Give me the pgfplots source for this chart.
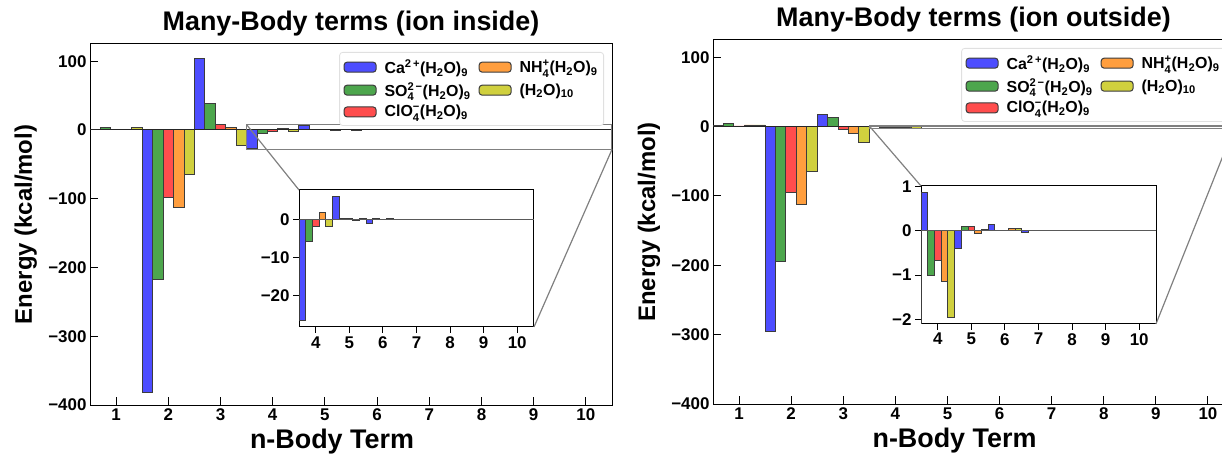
\documentclass[border=0pt]{standalone}
\usepackage{amsmath}
\usepackage{pgfplots}
\pgfplotsset{compat=1.18}
\usepackage{pgfplotstable}
\usepackage{fontspec}
\setmainfont{Liberation Sans}

\definecolor{caBlue}{RGB}{77,77,255}
\definecolor{soGreen}{RGB}{77,166,77}
\definecolor{clRed}{RGB}{255,77,77}
\definecolor{nhOrange}{RGB}{255,158,62}
\definecolor{hoYellow}{RGB}{208,208,62}
\definecolor{edgec}{RGB}{60,60,60}

\newcommand{\supsub}[2]{\ensuremath{^{\text{#1}}_{\text{#2}}}}
\newcommand{\sub}[1]{\ensuremath{_{\text{#1}}}}

\pgfplotstableread{
n ca so4 clo4 nh4 h2o
1 0.8 3.0 1.0 0.3 3.5
2 -382 -217 -98 -113 -64
3 104 38 8 4 -23
4 -26.6 -5.8 -1.8 1.8 -1.9
5 6.1 0.3 0.2 -0.3 0.1
6 -1.1 0.1 0.05 0.1 0.05
7 0.05 0.02 0.02 0.02 0.02
8 0.01 0.01 0 0 0
9 0 0 0 0 0
10 0 0 0 0 0
}\inside

\pgfplotstableread{
n ca so4 clo4 nh4 h2o
1 1.5 4.0 1.0 2.4 2.4
2 -295 -194 -95 -112.5 -64
3 17.7 13.4 -4 -9.7 -23
4 0.87 -1.02 -0.68 -1.15 -1.96
5 -0.41 0.09 0.09 -0.06 0.02
6 0.13 0.0 0.01 0.04 0.04
7 -0.04 0.01 0.0 0.0 0.0
8 0.01 0.0 0.0 0.0 0.0
9 0 0 0 0 0
10 0 0 0 0 0
}\outside

\pgfplotsset{
  bbase/.style={ybar, bar width=0.2, bar shift=0pt, draw=edgec, line width=0.9bp},
  common/.style={
    scale only axis,
    tick pos=left,
    tick style={black, line width=1bp},
    axis line style={black, line width=1bp},
    ticklabel style={font=\fontsize{17}{17}\selectfont\bfseries},
    clip=true,
  },
  mainax/.style={
    common,
    xmin=0.5, xmax=10.5, ymin=-400, ymax=125,
    xtick={1,...,10}, xticklabels={1,2,3,4,5,6,7,8,9,10},
    ytick={-400,-300,-200,-100,0,100},
    yticklabels={−400,−300,−200,−100,0,100},
    tick align=inside, major tick length=8bp,
    title style={font=\fontsize{27}{30}\selectfont\bfseries, at={(0.5,1)}, anchor=base, yshift=7.5bp},
    xlabel={n-Body Term},
    xlabel style={font=\fontsize{27}{30}\selectfont\bfseries, at={(0.5,0)}, anchor=base, yshift=-43bp, xshift=-19bp},
    ylabel={Energy (kcal/mol)},
    ylabel style={font=\fontsize{24}{28}\selectfont\bfseries, at={(0,0.5)}, anchor=base, yshift=58bp},
    legend columns=2,
    legend cell align=left,
    legend image code/.code={\draw[##1, line width=1bp] (0bp,-5bp) rectangle (32bp,5bp);},
    legend style={at={(1,1)}, anchor=north east, xshift=-8bp, yshift=-8bp,
      draw=black!12, rounded corners=3bp, fill=white, line width=0.8bp,
      font=\fontsize{16}{18}\selectfont\bfseries,
      inner xsep=4bp, inner ysep=5bp, row sep=3.5bp,
      /tikz/every odd column/.append style={column sep=6bp},
      /tikz/every even column/.append style={column sep=6bp}},
  },
  insetax/.style={
    common,
    width=235bp,
    xmin=3.5, xmax=10.5,
    xtick={4,...,10}, xticklabels={4,5,6,7,8,9,10},
    tick align=outside, major tick length=6bp,
    axis background/.style={fill=white},
  },
}

\begin{document}
\begin{tikzpicture}[x=1bp,y=1bp]
% ---------------- left main ----------------
\begin{axis}[mainax, at={(90bp,52bp)}, anchor=south west, width=522bp, height=361bp,
  title={Many-Body terms (ion inside)}]
\addplot[bbase, fill=caBlue] table[x expr=\thisrow{n}-0.4, y=ca] {\inside};
\addlegendentry{Ca\supsub{2\,+}{}(H\sub{2}O)\sub{9}}
\addplot[bbase, fill=nhOrange] table[x expr=\thisrow{n}+0.2, y=nh4] {\inside};
\addlegendentry{NH\supsub{+}{4}(H\sub{2}O)\sub{9}}
\addplot[bbase, fill=soGreen] table[x expr=\thisrow{n}-0.2, y=so4] {\inside};
\addlegendentry{SO\supsub{2\,−}{4}(H\sub{2}O)\sub{9}}
\addplot[bbase, fill=hoYellow] table[x expr=\thisrow{n}+0.4, y=h2o] {\inside};
\addlegendentry{(H\sub{2}O)\sub{10}}
\addplot[bbase, fill=clRed] table[x expr=\thisrow{n}, y=clo4] {\inside};
\addlegendentry{ClO\supsub{−}{4}(H\sub{2}O)\sub{9}}
\draw[black!85, line width=1bp] (axis cs:0.5,0) -- (axis cs:10.5,0);
\draw[gray, line width=1.2bp] (axis cs:3.5,-28.3) rectangle (axis cs:10.5,7.7);
\coordinate (LA) at (axis cs:3.5,7.7);
\coordinate (LB) at (axis cs:10.5,-28.3);
\end{axis}
\begin{axis}[insetax, at={(299bp,130bp)}, anchor=south west, height=137bp,
  ymin=-28.3, ymax=7.7, ytick={-20,-10,0}, yticklabels={−20,−10,0}]
\addplot[bbase, fill=caBlue] table[x expr=\thisrow{n}-0.4, y=ca] {\inside};
\addplot[bbase, fill=soGreen] table[x expr=\thisrow{n}-0.2, y=so4] {\inside};
\addplot[bbase, fill=clRed] table[x expr=\thisrow{n}, y=clo4] {\inside};
\addplot[bbase, fill=nhOrange] table[x expr=\thisrow{n}+0.2, y=nh4] {\inside};
\addplot[bbase, fill=hoYellow] table[x expr=\thisrow{n}+0.4, y=h2o] {\inside};
\draw[black!65, line width=1bp] (axis cs:3.5,0) -- (axis cs:10.5,0);
\coordinate (LC) at (rel axis cs:0,1);
\coordinate (LD) at (rel axis cs:1,0);
\end{axis}
\draw[gray, line width=1.2bp] (LA) -- (LC);
\draw[gray, line width=1.2bp] (LB) -- (LD);

% ---------------- right main ----------------
\begin{axis}[mainax, at={(713bp,53bp)}, anchor=south west, width=521bp, height=364bp,
  title={Many-Body terms (ion outside)}]
\addplot[bbase, fill=caBlue] table[x expr=\thisrow{n}-0.4, y=ca] {\outside};
\addlegendentry{Ca\supsub{2\,+}{}(H\sub{2}O)\sub{9}}
\addplot[bbase, fill=nhOrange] table[x expr=\thisrow{n}+0.2, y=nh4] {\outside};
\addlegendentry{NH\supsub{+}{4}(H\sub{2}O)\sub{9}}
\addplot[bbase, fill=soGreen] table[x expr=\thisrow{n}-0.2, y=so4] {\outside};
\addlegendentry{SO\supsub{2\,−}{4}(H\sub{2}O)\sub{9}}
\addplot[bbase, fill=hoYellow] table[x expr=\thisrow{n}+0.4, y=h2o] {\outside};
\addlegendentry{(H\sub{2}O)\sub{10}}
\addplot[bbase, fill=clRed] table[x expr=\thisrow{n}, y=clo4] {\outside};
\addlegendentry{ClO\supsub{−}{4}(H\sub{2}O)\sub{9}}
\draw[black!85, line width=1bp] (axis cs:0.5,0) -- (axis cs:10.5,0);
\draw[gray, line width=1.2bp] (axis cs:3.5,-2.1) rectangle (axis cs:10.5,1.01);
\coordinate (RA) at (axis cs:3.5,1.01);
\coordinate (RB) at (axis cs:10.5,-2.1);
\end{axis}
\begin{axis}[insetax, at={(921bp,133bp)}, anchor=south west, height=138bp,
  ymin=-2.1, ymax=1.01, ytick={-2,-1,0,1}, yticklabels={−2,−1,0,1}]
\addplot[bbase, fill=caBlue] table[x expr=\thisrow{n}-0.4, y=ca] {\outside};
\addplot[bbase, fill=soGreen] table[x expr=\thisrow{n}-0.2, y=so4] {\outside};
\addplot[bbase, fill=clRed] table[x expr=\thisrow{n}, y=clo4] {\outside};
\addplot[bbase, fill=nhOrange] table[x expr=\thisrow{n}+0.2, y=nh4] {\outside};
\addplot[bbase, fill=hoYellow] table[x expr=\thisrow{n}+0.4, y=h2o] {\outside};
\draw[black!65, line width=1bp] (axis cs:3.5,0) -- (axis cs:10.5,0);
\coordinate (RC) at (rel axis cs:0,1);
\coordinate (RD) at (rel axis cs:1,0);
\end{axis}
\draw[gray, line width=1.2bp] (RA) -- (RC);
\draw[gray, line width=1.2bp] (RB) -- (RD);

\pgfresetboundingbox
\path[use as bounding box] (0bp,0bp) rectangle (1222bp,457bp);
\end{tikzpicture}
\end{document}
